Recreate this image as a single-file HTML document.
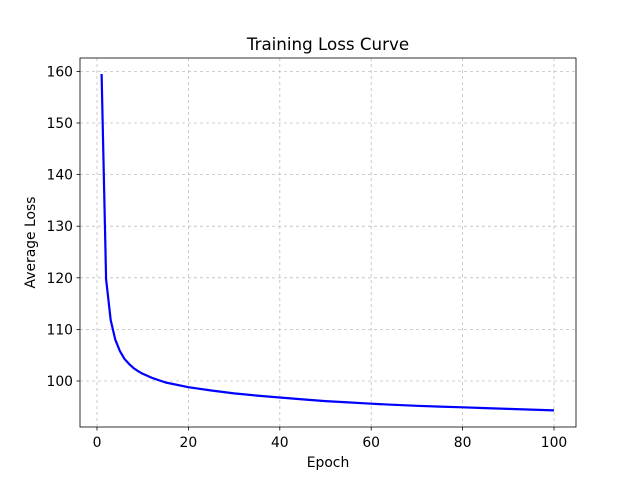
<!DOCTYPE html>
<html><head><style>body{margin:0;background:#fff}</style></head><body>
<svg width="640" height="480" xmlns="http://www.w3.org/2000/svg" font-family="'DejaVu Sans', sans-serif">
<rect width="640" height="480" fill="#fff"/>
<g stroke="#b0b0b0" stroke-width="0.8" stroke-dasharray="3,3" opacity="0.8">
<line x1="97" y1="58" x2="97" y2="427"/><line x1="188.4" y1="58" x2="188.4" y2="427"/>
<line x1="279.8" y1="58" x2="279.8" y2="427"/><line x1="371.2" y1="58" x2="371.2" y2="427"/>
<line x1="462.6" y1="58" x2="462.6" y2="427"/><line x1="554" y1="58" x2="554" y2="427"/>
<line x1="80" y1="381" x2="576" y2="381"/><line x1="80" y1="329.4" x2="576" y2="329.4"/>
<line x1="80" y1="277.8" x2="576" y2="277.8"/><line x1="80" y1="226.2" x2="576" y2="226.2"/>
<line x1="80" y1="174.6" x2="576" y2="174.6"/><line x1="80" y1="123" x2="576" y2="123"/>
<line x1="80" y1="71.4" x2="576" y2="71.4"/>
</g>
<polyline fill="none" stroke="#0000ff" stroke-width="2.2" stroke-linejoin="round"
points="101.6,74 106.1,279.3 110.7,320.1 115.3,339.7 119.9,351.1 124.4,358.8 129,363.9 133.6,368.1 138.1,371.2 142.7,373.8 151.8,377.8 165.6,382.5 188.4,387.2 211.3,390.5 234.1,393.4 257,395.6 279.8,397.5 302.7,399.4 325.5,401.1 348.4,402.4 371.2,403.7 394,404.8 416.9,405.8 439.7,406.6 462.6,407.3 485.4,408.1 508.3,408.9 531.1,409.6 554,410.4"/>
<rect x="80" y="58" width="496" height="369" fill="none" stroke="#000" stroke-width="0.8"/>
<g stroke="#000" stroke-width="0.8">
<line x1="97" y1="427" x2="97" y2="430.5"/><line x1="188.4" y1="427" x2="188.4" y2="430.5"/>
<line x1="279.8" y1="427" x2="279.8" y2="430.5"/><line x1="371.2" y1="427" x2="371.2" y2="430.5"/>
<line x1="462.6" y1="427" x2="462.6" y2="430.5"/><line x1="554" y1="427" x2="554" y2="430.5"/>
<line x1="76.5" y1="381" x2="80" y2="381"/><line x1="76.5" y1="329.4" x2="80" y2="329.4"/>
<line x1="76.5" y1="277.8" x2="80" y2="277.8"/><line x1="76.5" y1="226.2" x2="80" y2="226.2"/>
<line x1="76.5" y1="174.6" x2="80" y2="174.6"/><line x1="76.5" y1="123" x2="80" y2="123"/>
<line x1="76.5" y1="71.4" x2="80" y2="71.4"/>
</g>
<g font-size="13.9" fill="#000" text-anchor="middle">
<text x="97" y="447">0</text><text x="188.4" y="447">20</text><text x="279.8" y="447">40</text>
<text x="371.2" y="447">60</text><text x="462.6" y="447">80</text><text x="554" y="447">100</text>
</g>
<g font-size="13.9" fill="#000" text-anchor="end">
<text x="73" y="386">100</text><text x="73" y="334.4">110</text><text x="73" y="282.8">120</text>
<text x="73" y="231.2">130</text><text x="73" y="179.6">140</text><text x="73" y="128">150</text>
<text x="73" y="76.4">160</text>
</g>
<text x="328" y="467" font-size="13.9" text-anchor="middle">Epoch</text>
<text x="35" y="242.5" font-size="13.9" text-anchor="middle" transform="rotate(-90 35 242.5)">Average Loss</text>
<text x="328" y="50" font-size="16.7" text-anchor="middle">Training Loss Curve</text>
</svg>
</body></html>
